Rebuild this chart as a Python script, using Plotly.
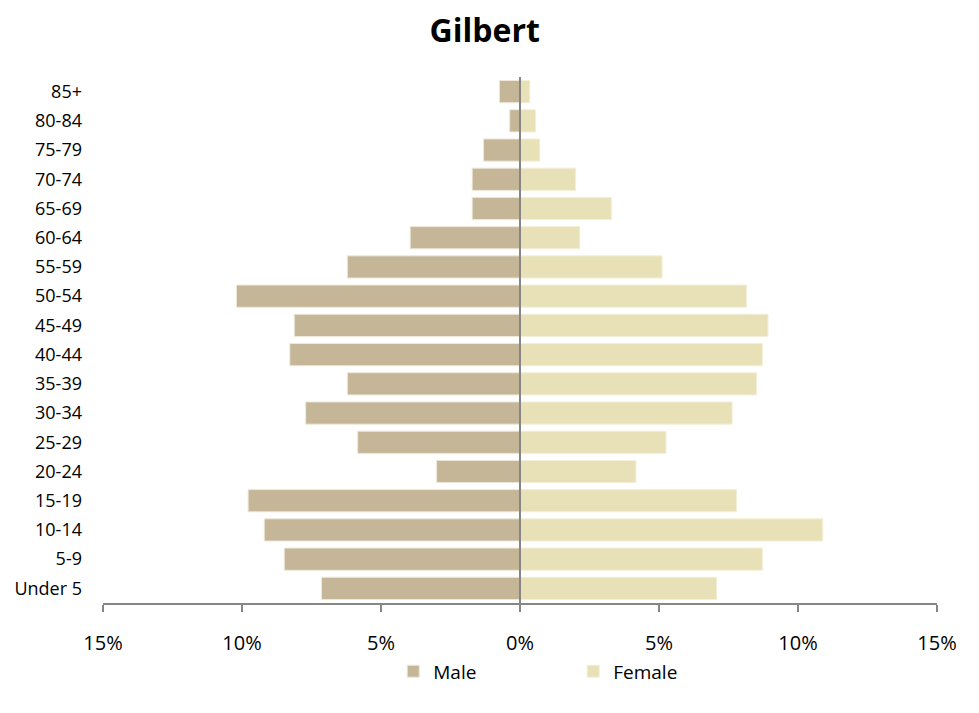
import plotly.graph_objects as go

age_groups = ["Under 5", "5-9", "10-14", "15-19", "20-24", "25-29", "30-34", "35-39",
              "40-44", "45-49", "50-54", "55-59", "60-64", "65-69", "70-74", "75-79",
              "80-84", "85+"]
male_pct = [7.14, 8.48, 9.20, 9.78, 3.00, 5.84, 7.71, 6.21, 8.28, 8.12, 10.20, 6.21,
            3.95, 1.72, 1.72, 1.31, 0.37, 0.74]
female_pct = [7.07, 8.72, 10.89, 7.79, 4.17, 5.25, 7.63, 8.51, 8.72, 8.92, 8.15, 5.11,
              2.15, 3.29, 2.00, 0.71, 0.56, 0.35]
tick_vals = [-15, -10, -5, 0, 5, 10, 15]
tick_text = ["15%", "10%", "5%", "0%", "5%", "10%", "15%"]

male_color = "#C4B696"
female_color = "#E8E1B8"
axis_color = "#868686"
font_family = "Open Sans, Liberation Sans, sans-serif"

fig = go.Figure()
fig.add_trace(go.Bar(
    y=age_groups, x=[-v for v in male_pct], orientation="h", name="Male",
    marker=dict(color=male_color, line=dict(color="#EDE8DA", width=1)),
))
fig.add_trace(go.Bar(
    y=age_groups, x=female_pct, orientation="h", name="Female",
    marker=dict(color=female_color, line=dict(color="#F3EFD8", width=1)),
))

# vertical axis line at zero, drawn above the bars
fig.add_vline(x=0, line=dict(color=axis_color, width=2), layer="above")

fig.update_layout(
    width=971, height=705,
    paper_bgcolor="white", plot_bgcolor="white",
    barmode="relative", bargap=0.24,
    margin=dict(l=95, r=42, t=69, b=110, autoexpand=False),
    title=dict(text="<b>Gilbert</b>", x=0.491, xanchor="center", y=0.968, yanchor="middle",
               font=dict(family=font_family, size=32, color="black")),
    font=dict(family=font_family, size=18, color="black"),
    showlegend=True,
    legend=dict(orientation="h", x=0.348, xanchor="left", y=-0.13, yanchor="middle",
                font=dict(size=19), entrywidth=135, traceorder="normal",
                bgcolor="rgba(0,0,0,0)"),
    xaxis=dict(range=[-15, 15], tickvals=tick_vals, ticktext=tick_text,
               showgrid=False, zeroline=False,
               showline=True, linecolor=axis_color, linewidth=2,
               ticks="outside", ticklen=7, tickcolor=axis_color, tickwidth=1.5,
               ticklabelstandoff=14, tickfont=dict(size=20), layer="above traces",
               automargin=False, fixedrange=True),
    yaxis=dict(showgrid=False, zeroline=False, showline=False, ticks="",
               ticklabelstandoff=20, tickfont=dict(size=18), automargin=False,
               categoryorder="array", categoryarray=age_groups),
)

fig.write_html("out.html")
